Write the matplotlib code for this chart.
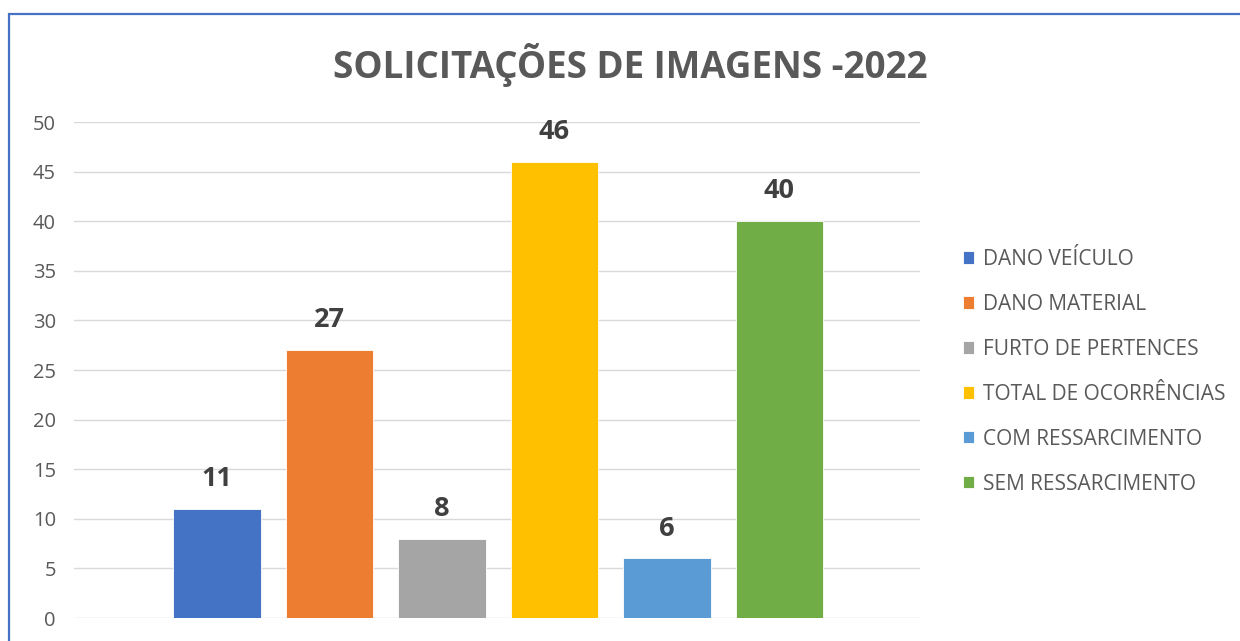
import matplotlib.pyplot as plt
from matplotlib.patches import Rectangle

categories = ["DANO VEÍCULO", "DANO MATERIAL", "FURTO DE PERTENCES",
              "TOTAL DE OCORRÊNCIAS", "COM RESSARCIMENTO", "SEM RESSARCIMENTO"]
values = [11, 27, 8, 46, 6, 40]
colors = ["#4472C4", "#ED7D31", "#A5A5A5", "#FFC000", "#5B9BD5", "#70AD47"]
yticks = [0, 5, 10, 15, 20, 25, 30, 35, 40, 45, 50]

plt.rcParams["font.family"] = ["Open Sans", "DejaVu Sans"]
text_gray = "#595959"

fig = plt.figure(figsize=(12.4, 6.41), dpi=100)
ax = fig.add_axes([74 / 1240, 1 - 618 / 641, 846 / 1240, 496 / 641])

# outer chart frame
fig.patches.append(Rectangle((9 / 1240, -0.05), 1.1, 1 - 14 / 641 + 0.05,
                             transform=fig.transFigure, fill=False,
                             edgecolor="#4472C4", linewidth=1.6))

bars = []
for i, (cat, val, col) in enumerate(zip(categories, values, colors)):
    b = ax.bar(i, val, width=0.78, color=col, edgecolor="white",
               linewidth=0.6, label=cat, zorder=3)
    bars.append(b)
    ax.text(i, val + 3.0, str(val), ha="center", va="center",
            fontsize=19.5, fontweight="bold", color="#404040")

ax.set_xlim(-1.271, 6.249)
ax.set_ylim(0, 50)
ax.set_yticks(yticks)
ax.set_xticks([])
ax.grid(axis="y", color="#D9D9D9", linewidth=1, zorder=0)
for s in ax.spines.values():
    s.set_visible(False)
ax.tick_params(axis="y", length=0, pad=13, labelsize=14.5, labelcolor=text_gray)

fig.text(630 / 1240, 1 - 65 / 641, "SOLICITAÇÕES DE IMAGENS -2022",
         ha="center", va="center", fontsize=26.5, fontweight="bold", color=text_gray)

leg = fig.legend(handles=bars, labels=categories, loc="upper left",
                 bbox_to_anchor=(944 / 1240, 1 - 230 / 641), frameon=False,
                 handlelength=0.55, handleheight=0.55, handletextpad=0.4,
                 labelspacing=1.15, fontsize=15, labelcolor=text_gray)

fig.savefig("out.png", dpi=100, facecolor="white")
